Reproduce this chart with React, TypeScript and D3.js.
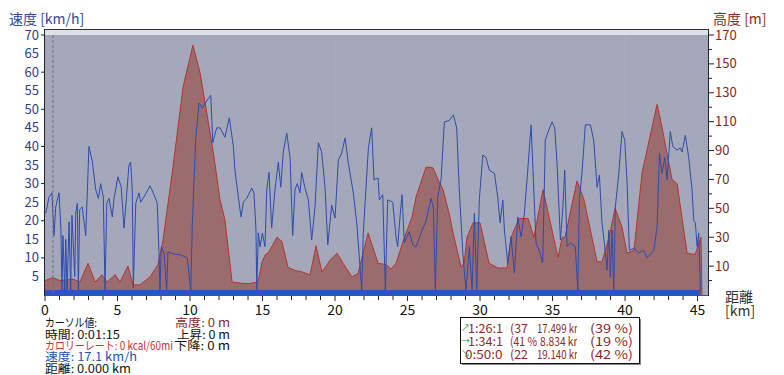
import React from 'react';
import * as d3 from 'd3';

const W = 784;
const H = 375;

// Altitude profile (km, m)
const altKm = [0, 0.55, 1.03, 1.93, 2.41, 2.97, 3.45, 3.93, 4.28, 4.83, 5.17, 5.72, 6.07, 6.55, 7.24, 7.79, 8.14, 8.83, 9.52, 10.2, 10.69, 11.59, 12.07, 12.41, 12.9, 13.66, 14.14, 14.69, 14.97, 15.2, 15.38, 16.0, 16.34, 16.76, 17.24, 17.72, 18.28, 18.69, 19.1, 19.66, 20.14, 20.55, 21.17, 21.59, 22.28, 22.97, 23.52, 23.86, 24.21, 24.69, 25.31, 25.59, 26.28, 26.76, 27.1, 27.45, 27.93, 28.14, 28.69, 28.9, 29.1, 29.52, 30.0, 30.62, 31.24, 31.86, 32.14, 32.69, 33.31, 33.72, 34.34, 35.38, 35.66, 35.86, 36.69, 37.17, 38.07, 38.41, 38.9, 39.31, 39.79, 40.14, 40.62, 41.17, 42.21, 42.55, 43.24, 43.59, 44.28, 44.83, 45.24, 45.3];
const altM = [0, 2, 0, 1, -1, 12, -1, 4, -1, 4, -1, 10, -3, -3, 2.5, 11, 28, 79, 134, 163, 144, 90, 56, 42, -1, -2, -2, -1, 13, 18, 19, 30, 27, 9, 7, 6, 4, 24, 6, 14, 19, 12, 2.5, 5, 33, 12, 11, 8, 12, 27, 44, 58, 78.6, 78, 70, 63, 44, 33, 9.4, 12, 30, 40, 40, 12, 8.7, 8.7, 30, 43, 43, 30, 63, 16, 30, 30, 69, 56, 13, 13, 30, 50, 37, 19, 21, 74.5, 122, 106, 70, 67, 19, 18, 30, -10];

// Speed trace (km, km/h)
const spdKm = [0.05, 0.28, 0.48, 0.62, 0.74, 0.97, 1.10, 1.17, 1.24, 1.36, 1.43, 1.52, 1.66, 1.77, 1.86, 2.05, 2.12, 2.23, 2.30, 2.39, 2.57, 2.81, 3.03, 3.26, 3.50, 3.68, 3.84, 4.02, 4.14, 4.26, 4.41, 4.64, 4.76, 5.03, 5.26, 5.45, 5.63, 5.79, 5.91, 6.02, 6.09, 6.26, 6.48, 6.60, 6.83, 7.24, 7.52, 7.74, 7.86, 7.93, 8.02, 8.21, 8.39, 8.48, 8.90, 9.36, 9.81, 10.05, 10.16, 10.39, 10.62, 10.85, 11.19, 11.43, 11.57, 11.84, 12.07, 12.41, 12.71, 12.99, 13.10, 13.33, 13.52, 13.68, 13.91, 14.26, 14.41, 14.55, 14.60, 14.71, 14.83, 14.99, 15.17, 15.29, 15.45, 15.63, 15.86, 16.09, 16.26, 16.43, 16.67, 16.90, 17.08, 17.24, 17.40, 17.59, 17.70, 17.93, 18.16, 18.39, 18.62, 18.85, 19.08, 19.31, 19.50, 19.77, 20.00, 20.23, 20.46, 20.69, 20.92, 21.26, 21.50, 21.84, 21.95, 22.30, 22.53, 22.69, 22.97, 23.06, 23.29, 23.47, 23.63, 23.98, 24.21, 24.32, 24.48, 24.62, 24.78, 25.12, 25.36, 25.59, 25.93, 26.28, 26.62, 26.78, 26.92, 27.08, 27.31, 27.54, 27.88, 28.16, 28.39, 28.57, 28.81, 29.03, 29.26, 29.45, 29.61, 29.77, 29.95, 30.19, 30.41, 30.64, 30.99, 31.22, 31.38, 31.57, 31.68, 31.91, 32.14, 32.37, 32.60, 32.83, 33.06, 33.29, 33.52, 33.68, 33.86, 34.09, 34.32, 34.39, 34.50, 34.74, 34.97, 35.15, 35.31, 35.54, 35.70, 35.84, 36.00, 36.23, 36.57, 36.74, 36.85, 37.03, 37.26, 37.61, 37.84, 38.07, 38.23, 38.41, 38.60, 38.76, 38.88, 38.99, 39.10, 39.22, 39.33, 39.57, 39.79, 39.98, 40.14, 40.30, 40.60, 40.94, 41.29, 41.52, 41.98, 42.21, 42.37, 42.55, 42.74, 42.90, 43.12, 43.29, 43.59, 43.81, 43.93, 44.16, 44.39, 44.62, 44.74, 44.85, 44.97, 45.08, 45.19];
const spdV = [22, 26.4, 27.5, 16, 23.7, 27.5, 17.5, 1.3, 16, 1.3, 15, 1.3, 19.7, 1.3, 21.5, 5, 22, 24.7, 1.3, 23, 23.7, 16, 40, 36, 28.3, 26, 30, 26.4, 1.3, 24.7, 26, 21, 26, 31.8, 29, 18, 27, 35, 35.8, 28.3, 2, 24.7, 27.5, 25, 26.4, 29.4, 27, 24.7, 11.3, 1.3, 13, 11.3, 1.3, 11.6, 11, 10.8, 10, 1.3, 19.4, 41.7, 51.7, 50.3, 52.5, 53.8, 41, 45, 45, 42.5, 47.7, 40, 33.6, 26.4, 21, 25, 26, 28.8, 27.5, 17.5, 1.3, 16.7, 13, 16.7, 13, 28.3, 33, 18, 28.3, 35.8, 29, 38.5, 43.6, 37, 16, 28.3, 30, 27.5, 33, 28.8, 25.6, 14.8, 23.7, 41, 38.5, 29, 13.5, 24.2, 20.7, 36.3, 38.2, 42.3, 35.5, 27.5, 19.4, 1.3, 16.7, 39.6, 45, 31, 31.5, 25.6, 27, 1.3, 25.6, 25, 15.6, 13, 21, 27, 14, 17, 13.5, 13, 16.7, 20, 26, 23.7, 1.3, 26.4, 31, 46.6, 47, 48.5, 45, 28.3, 11.3, 1.3, 13, 1.3, 22, 1.3, 25.6, 37.7, 37, 33.6, 32.8, 26.4, 19.4, 25.6, 17.5, 8.6, 15.6, 5.9, 21, 15.6, 22, 33.6, 45.8, 31, 14, 12, 8.6, 21, 41.7, 44.4, 46.6, 45, 35.5, 14.8, 22.9, 33.6, 13, 14, 13, 1.3, 25.6, 32.8, 45.8, 45.8, 41.7, 29, 32.3, 19.4, 13, 6.7, 17.5, 4.8, 17.5, 1.3, 23.7, 32.8, 44, 41.7, 30, 12, 12.6, 11.3, 12, 10, 12, 18.3, 38.2, 32.8, 37, 31, 44, 40, 39, 39.6, 38.5, 43, 37, 28.3, 20, 19.4, 13, 16.7, 1.3];

const speedLabelTicks = [5, 10, 15, 20, 25, 30, 35, 40, 45, 50, 55, 60, 65, 70];
const speedMarkTicks = [10, 20, 30, 40, 50, 60, 70];
const altLabelTicks = [10, 30, 50, 70, 90, 110, 130, 150, 170];
const altMinorTicks = [0, 20, 40, 60, 80, 100, 120, 140, 160];
const kmLabelTicks = [0, 5, 10, 15, 20, 25, 30, 35, 40, 45];
const kmMinorTicks = d3.range(0, 46, 1);
const gridKm = [10, 20, 30, 40];

const summaryTimes = ['1:26:15', '1:34:15', '0:50:00'];
const summaryPct1 = ['(37', '(41 %', '(22'];
const summaryDist = ['17.499 km', '8.834 km', '19.140 km'];
const summaryPct2 = ['(39 %)', '(19 %)', '(42 %)'];
const summaryIcons = ['↗', '→', '↘'];

const FONT = '"Noto Sans CJK JP", "Noto Sans", sans-serif';

export default function App() {
  const x = d3.scaleLinear().domain([0, 45.72]).range([45, 708]);
  const yS = d3.scaleLinear().domain([0, 70]).range([295, 35]);
  const yA = d3.scaleLinear().domain([-10, 170]).range([295, 35]);

  const altData: [number, number][] = altKm.map((k, i) => [k, altM[i]]);
  const spdData: [number, number][] = spdKm.map((k, i) => [k, spdV[i]]);

  const area = d3.area<[number, number]>().x(d => x(d[0])).y0(yA(-10)).y1(d => yA(d[1]));
  const altLine = d3.line<[number, number]>().x(d => x(d[0])).y(d => yA(d[1]));
  const spdLine = d3.line<[number, number]>().x(d => x(d[0])).y(d => yS(d[1]));

  const blueAxis = '#2b3f88';
  const brownAxis = '#7a2a1e';
  const boxText = '#8a2a2a';

  return (
    <svg width={W} height={H} style={{ position: 'absolute', left: 0, top: 0, background: '#fff' }} fontFamily={FONT}>
      <defs>
        <clipPath id="plot"><rect x={45} y={35} width={663} height={260} /></clipPath>
        <clipPath id="c1"><rect x={455} y={318} width={48} height={45} /></clipPath>
        <clipPath id="c3"><rect x={531} y={318} width={46} height={45} /></clipPath>
      </defs>

      {/* plot background */}
      <rect x={45} y={29} width={663} height={6} fill="#dde0e7" />
      <rect x={45} y={35} width={663} height={260} fill="#a4a8ba" />
      {gridKm.map(k => (
        <line key={k} x1={x(k)} x2={x(k)} y1={35} y2={295} stroke="#a9adbf" strokeWidth={1} />
      ))}

      <g clipPath="url(#plot)">
        <path d={area(altData) || ''} fill="#9c6b6e" />
        <path d={altLine(altData) || ''} fill="none" stroke="#b5352a" strokeWidth={1} />
        <path d={spdLine(spdData) || ''} fill="none" stroke="#2c4cae" strokeWidth={1} />
        <rect x={x(0)} y={290} width={x(45.2) - x(0)} height={5} fill="#2c55c2" />
      </g>

      {/* cursor */}
      <line x1={x(0.55)} x2={x(0.55)} y1={35} y2={295} stroke="#6c6f80" strokeDasharray="3,2" strokeWidth={1} />

      {/* frame */}
      <line x1={45} x2={708} y1={29.5} y2={29.5} stroke="#333" />
      <line x1={44.5} x2={44.5} y1={29} y2={296} stroke="#222" />
      <line x1={708.5} x2={708.5} y1={29} y2={296} stroke="#222" />
      <line x1={45} x2={708} y1={295.5} y2={295.5} stroke="#555" />

      {/* left axis */}
      {speedMarkTicks.map(v => (
        <line key={'sm' + v} x1={41} x2={45} y1={yS(v)} y2={yS(v)} stroke="#222" />
      ))}
      {speedLabelTicks.map(v => (
        <text key={'sl' + v} x={39} y={yS(v) + 4.5} textAnchor="end" fontSize={13} fill={blueAxis}>{v}</text>
      ))}
      <text x={9} y={24} fontSize={14} fill="#2a4a9c">速度 [km/h]</text>

      {/* right axis */}
      {altMinorTicks.map(v => (
        <line key={'am' + v} x1={708} x2={712} y1={yA(v)} y2={yA(v)} stroke="#222" />
      ))}
      {altLabelTicks.map(v => (
        <g key={'al' + v}>
          <line x1={708} x2={714} y1={yA(v)} y2={yA(v)} stroke="#222" />
          <text x={715} y={yA(v) + 4.5} fontSize={13} fill={brownAxis}>{v}</text>
        </g>
      ))}
      <text x={713} y={24} fontSize={14} fill="#8a2a1c">高度 [m]</text>

      {/* bottom axis */}
      {kmMinorTicks.map(k => (
        <line key={'km' + k} x1={x(k)} x2={x(k)} y1={296} y2={k % 5 === 0 ? 301 : 300} stroke="#222" />
      ))}
      {kmLabelTicks.map(k => (
        <text key={'kl' + k} x={x(k)} y={315} textAnchor="middle" fontSize={14} fill="#111">{k}</text>
      ))}
      <text x={725} y={302} fontSize={14} fill="#333">距離</text>
      <text x={725} y={316} fontSize={14} fill="#333">[km]</text>

      {/* cursor values */}
      <text x={45} y={327} fontSize={11.5} fill="#111" textLength={52} lengthAdjust="spacingAndGlyphs">カーソル値:</text>
      <text x={45} y={338.5} fontSize={11.5} fill="#111" textLength={75} lengthAdjust="spacingAndGlyphs">時間: 0:01:15</text>
      <text x={45} y={350} fontSize={11.5} fill="#c03434" textLength={128} lengthAdjust="spacingAndGlyphs">カロリーレート: 0 kcal/60mi</text>
      <text x={45} y={361} fontSize={11.5} fill="#2450b4" textLength={92} lengthAdjust="spacingAndGlyphs">速度: 17.1 km/h</text>
      <text x={45} y={372.5} fontSize={11.5} fill="#111" textLength={86} lengthAdjust="spacingAndGlyphs">距離: 0.000 km</text>

      <text x={175} y={327} fontSize={11.5} fill="#8a2a1c" textLength={55} lengthAdjust="spacingAndGlyphs">高度: 0 m</text>
      <text x={177} y={338.5} fontSize={11.5} fill="#111" textLength={53} lengthAdjust="spacingAndGlyphs">上昇: 0 m</text>
      <text x={174} y={350} fontSize={11.5} fill="#111" textLength={56} lengthAdjust="spacingAndGlyphs">下降: 0 m</text>

      {/* summary box */}
      <rect x={462} y={319} width={179} height={46} fill="#888" />
      <rect x={460.5} y={317.5} width={179} height={46} fill="#fff" stroke="#111" />
      {summaryTimes.map((t, i) => {
        const yy = 333 + i * 13;
        return (
          <g key={'s' + i}>
            <g clipPath="url(#c1)">
              <text x={i === 2 ? 465 : 468} y={yy} fontSize={12} fill={boxText} textLength={i === 2 ? 45 : 42} lengthAdjust="spacingAndGlyphs">{t}</text>
            </g>
            <text x={461} y={yy - 2} fontSize={9} fill="#2ea050">{summaryIcons[i]}</text>
            <text x={510} y={yy} fontSize={12} fill={boxText} textLength={i === 1 ? 27 : 18} lengthAdjust="spacingAndGlyphs">{summaryPct1[i]}</text>
            <g clipPath="url(#c3)">
              <text x={i === 1 ? 540 : 537} y={yy} fontSize={12} fill={boxText} textLength={i === 1 ? 43 : 46} lengthAdjust="spacingAndGlyphs">{summaryDist[i]}</text>
            </g>
            <text x={590} y={yy} fontSize={12} fill={boxText} textLength={43} lengthAdjust="spacingAndGlyphs">{summaryPct2[i]}</text>
          </g>
        );
      })}
    </svg>
  );
}
